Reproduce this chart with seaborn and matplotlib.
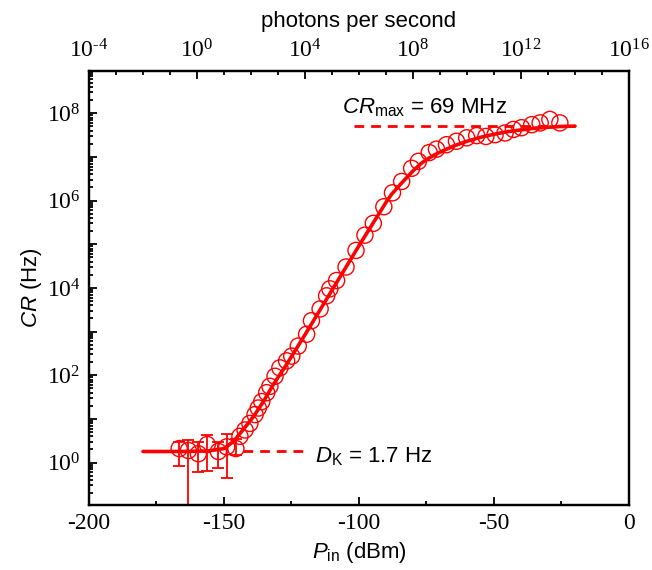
import numpy as np
import pandas as pd
import seaborn as sns
import matplotlib.pyplot as plt
from matplotlib.ticker import LogLocator, FuncFormatter, MultipleLocator, NullFormatter, FixedLocator

p_in = [-166.6, -163.2, -159.5, -156.2, -152.1, -149.0, -145.6, -144.1, -142.2, -140.4,
        -138.5, -137.3, -136.0, -134.2, -133.0, -131.1, -129.3, -126.8, -124.9, -122.5,
        -119.4, -117.6, -114.4, -112.0, -110.8, -108.3, -104.8, -101.1, -97.8, -94.7,
        -90.8, -87.6, -84.2, -80.5, -78.0, -74.0, -71.3, -67.6, -63.9, -60.1,
        -56.4, -53.0, -49.6, -45.9, -42.8, -39.8, -36.0, -32.9, -29.3, -25.6]
cr = [2.1, 1.9, 1.6, 2.6, 1.8, 2.3, 2.1, 4.0, 5.6, 7.9,
      12.6, 17.8, 25, 40, 56, 95, 148, 214, 275, 468,
      871, 1.78e3, 3.31e3, 6.61e3, 9.55e3, 1.48e4, 3.02e4, 7.24e4, 1.62e5, 3.02e5,
      7.24e5, 1.51e6, 2.75e6, 5.5e6, 7.94e6, 1.26e7, 1.51e7, 1.91e7, 2.29e7, 2.75e7,
      3.09e7, 2.95e7, 3.24e7, 3.55e7, 4.27e7, 4.68e7, 5.5e7, 6.03e7, 7.24e7, 6.03e7]

# error bars of the low-power points (lower / upper bound, Hz)
p_err = [-166.6, -163.2, -159.5, -156.2, -152.1, -149.0, -145.6]
cr_err = [2.1, 1.9, 1.6, 2.6, 1.8, 2.3, 2.1]
cr_low = [0.85, 0.01, 0.62, 0.65, 0.76, 0.45, 1.5]
cr_high = [3.0, 3.3, 2.9, 4.2, 3.0, 4.5, 3.5]

# fitted curve
p_fit = [-180, -165, -156, -150, -146.6, -143, -139, -135.4, -131.7, -126.8,
         -120, -110, -100, -90, -88, -85, -82, -80, -77, -75,
         -72, -70, -65, -60, -55, -50, -45, -40, -35, -30, -25, -20]
cr_fit = [1.8, 1.8, 1.85, 2.1, 3.0, 5.6, 11.5, 25, 62, 178,
          850, 8.9e3, 9.3e4, 9.1e5, 1.38e6, 2.24e6, 3.55e6, 4.8e6, 7.1e6, 8.7e6,
          1.12e7, 1.29e7, 1.78e7, 2.29e7, 2.82e7, 3.31e7, 3.8e7, 4.17e7, 4.57e7, 4.79e7, 5.0e7, 5.1e7]

dk_p = [-143, -120]
dk_cr = [1.8, 1.8]
crmax_p = [-102, -20]
crmax_cr = [5.1e7, 5.1e7]

p_ticks = [-200, -150, -100, -50, 0]
p_labels = ['-200', '-150', '-100', '-50', '0']
photon_ticks = [1e-4, 1e0, 1e4, 1e8, 1e12, 1e16]
photon_minor = [10.0 ** k for k in range(-4, 17)]

red = '#ff0000'

sns.set_style('ticks')
plt.rcParams['font.family'] = ['Liberation Sans', 'DejaVu Sans']
plt.rcParams['axes.unicode_minus'] = False
plt.rcParams['mathtext.fontset'] = 'custom'
plt.rcParams['mathtext.rm'] = 'Liberation Serif'
plt.rcParams['mathtext.it'] = 'Liberation Sans:italic'
plt.rcParams['mathtext.sf'] = 'Liberation Sans'
plt.rcParams['text.color'] = 'black'
plt.rcParams['axes.labelcolor'] = 'black'
plt.rcParams['axes.edgecolor'] = 'black'
plt.rcParams['xtick.color'] = 'black'
plt.rcParams['ytick.color'] = 'black'

fig = plt.figure(figsize=(6.52, 5.7), dpi=100)
ax = fig.add_axes([0.1365, 0.114, 0.8282, 0.7614])

df_fit = pd.DataFrame({'P': p_fit, 'CR': cr_fit})
sns.lineplot(data=df_fit, x='P', y='CR', ax=ax, color=red, lw=2.6, zorder=3)
ax.errorbar(p_err, cr_err,
            yerr=[np.array(cr_err) - np.array(cr_low), np.array(cr_high) - np.array(cr_err)],
            fmt='none', ecolor=red, elinewidth=1.3, capsize=4.5, capthick=1.3, zorder=2)
df = pd.DataFrame({'P': p_in, 'CR': cr})
sns.scatterplot(data=df, x='P', y='CR', ax=ax, s=135, facecolors='none',
                edgecolor=red, linewidth=1.0, marker='o', zorder=4)
ax.plot(dk_p, dk_cr, ls=(0, (3.5, 2.5)), color=red, lw=2)
ax.plot(crmax_p, crmax_cr, ls=(0, (3.5, 2.5)), color=red, lw=2)

ax.text(-116.3, 1.4, r'$\mathit{D}_{\mathsf{K}}$ = 1.7 Hz', fontsize=16, va='center', ha='left')
ax.text(-106.3, 1.35e8, r'$\mathit{CR}_{\mathsf{max}}$ = 69 MHz', fontsize=16, va='center', ha='left')


def serif_pow(v, pos):
    e = round(np.log10(v))
    return r'$\mathrm{10^{%s}}$' % str(e).replace('-', '\u2010')


ax.set_yscale('log')
ax.set_xlim(-200, 0)
ax.set_ylim(0.107, 9.3e8)
ax.xaxis.set_minor_locator(MultipleLocator(25))
ax.yaxis.set_major_locator(LogLocator(base=10, numticks=30))
ax.yaxis.set_minor_locator(LogLocator(base=10, subs=np.arange(2, 10), numticks=30))
ax.yaxis.set_minor_formatter(NullFormatter())
ax.yaxis.set_major_formatter(FuncFormatter(
    lambda v, pos: serif_pow(v, pos) if round(np.log10(v)) % 2 == 0 else ''))
ax.tick_params(axis='both', which='both', direction='in', top=False, right=False,
               width=1.3, labelsize=17, pad=6)
ax.tick_params(which='major', length=6)
ax.tick_params(which='minor', length=3)
ax.set_xticks(p_ticks, labels=p_labels, fontfamily='Liberation Serif', fontsize=17)
ax.set_xlabel(r'$\mathit{P}_{\mathsf{in}}$ (dBm)', fontsize=16, labelpad=4)
ax.set_ylabel(r'$\mathit{CR}$ (Hz)', fontsize=16, labelpad=2)
for s in ax.spines.values():
    s.set_linewidth(1.6)

ax2 = ax.twiny()
ax2.set_xscale('log')
ax2.set_xlim(1e-4, 1e16)
ax2.xaxis.set_major_locator(FixedLocator(photon_ticks))
ax2.xaxis.set_minor_locator(FixedLocator(photon_minor))
ax2.xaxis.set_minor_formatter(NullFormatter())
ax2.xaxis.set_major_formatter(FuncFormatter(serif_pow))
ax2.tick_params(axis='x', which='both', direction='in', width=1.3, labelsize=17, pad=6)
ax2.tick_params(which='major', length=6)
ax2.tick_params(which='minor', length=3)
ax2.set_xlabel('photons per second', fontsize=16, labelpad=9)
for s in ax2.spines.values():
    s.set_linewidth(1.6)

fig.canvas.draw()
plt.setp(ax.get_xticklabels(), fontfamily='Liberation Serif')
fig.savefig('out.png', dpi=100)
